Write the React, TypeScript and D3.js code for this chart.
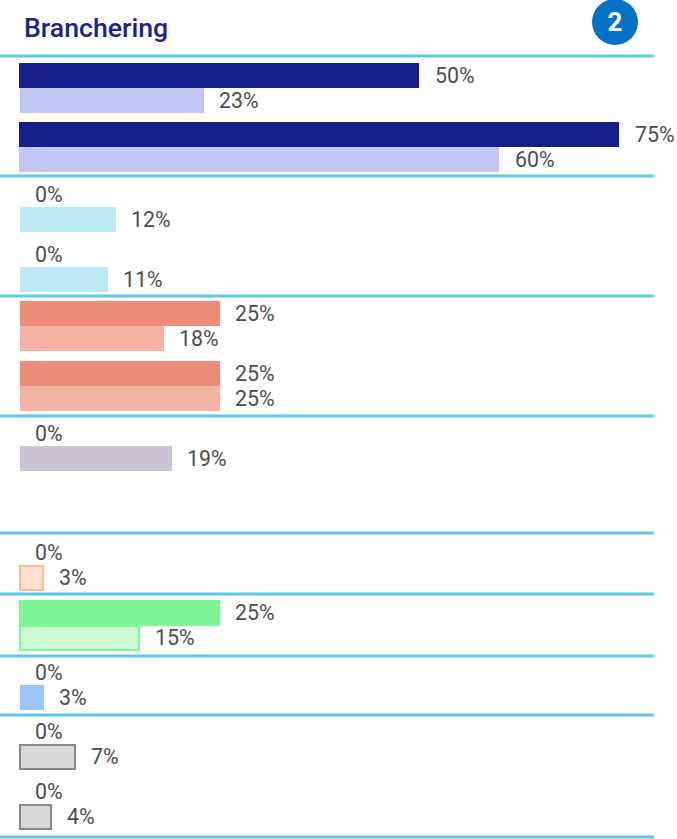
import React from "react";
import * as d3 from "d3";

const title = "Branchering";
const badge = "2";
const firstValues = [50, 75, 0, 0, 25, 25, 0, null, 0, 25, 0, 0, 0];
const secondValues = [23, 60, 12, 11, 18, 25, 19, null, 3, 15, 3, 7, 4];
const firstFills = ["#151e8a", "#151e8a", "#bde9f2", "#bde9f2", "#ef8c79", "#ef8c79", "#cbc5d1", "", "#ffe0d1", "#7ff695", "#99c6f6", "#d8d8d8", "#d8d8d8"];
const secondFills = ["#c3c6f5", "#c3c6f5", "#bde9f2", "#bde9f2", "#f5b3a6", "#f5b3a6", "#cbc5d1", "", "#ffe0d1", "#ccfbd6", "#99c6f6", "#d8d8d8", "#d8d8d8"];
const secondStrokes = ["", "", "", "", "", "", "", "", "#ffba92", "#80f598", "", "#888888", "#888888"];
const sectionBreaks = [0, 2, 4, 6, 8, 9, 10, 11, 13];

// layout of the row axis, measured in the picture
const lineRange = [56, 176, 296, 416, 533, 594, 656, 715, 837];
const rowDomain = [0, 1, 2, 3, 4, 5, 6, 8, 9, 10, 11, 12];
const rowRange = [63, 122, 182, 242, 301, 361, 421, 540, 600, 660, 719, 779];

const barH = 25;
const x = d3.scaleLinear().domain([0, 75]).range([20, 620]);
const yLine = d3.scaleLinear().domain(sectionBreaks).range(lineRange);
const yRow = d3.scaleLinear().domain(rowDomain).range(rowRange);
const fmt = (v: number) => `${v}%`;
const font = "Roboto, sans-serif";

export default function App() {
  return (
    <svg width={677} height={839} style={{ position: "absolute", left: 0, top: 0, background: "#fff" }}>
      <text x={24} y={37} fontFamily={font} fontWeight={500} fontSize={26.67} fill="#1a2391">{title}</text>
      <circle cx={615} cy={22} r={23} fill="#0472c4" />
      <text x={615} y={31} textAnchor="middle" fontFamily={font} fontWeight={700} fontSize={26} fill="#fff">{badge}</text>
      {firstValues.map((v, i) => {
        const w = secondValues[i];
        if (v === null || w === null) return null;
        const top = yRow(i);
        const stroke = secondStrokes[i];
        const inset = stroke ? 1 : 0;
        return (
          <g key={i}>
            {v > 0 && (
              <rect x={x(0) - (i < 2 || stroke ? 1 : 0)} y={top} width={x(v) - x(0) + (stroke ? 1 : 0)} height={barH + inset} fill={firstFills[i]} />
            )}
            <rect
              x={x(0) + (stroke ? 0 : i === 1 ? -1 : 0)}
              y={top + barH + inset}
              width={Math.max(x(w) - x(0) - inset, 0)}
              height={barH - inset}
              fill={secondFills[i]}
              stroke={stroke || "none"}
              strokeWidth={stroke ? 2 : 0}
            />
            <text x={x(v) + 15} y={top + barH - 5} fontFamily={font} fontSize={21.33} fill="#4d4d4d">{fmt(v)}</text>
            <text x={x(w) + 15} y={top + 2 * barH - 5} fontFamily={font} fontSize={21.33} fill="#4d4d4d">{fmt(w)}</text>
          </g>
        );
      })}
      {sectionBreaks.map((b) => (
        <line key={b} x1={0} x2={654} y1={yLine(b)} y2={yLine(b)} stroke="#5cc8e6" strokeWidth={3} />
      ))}
    </svg>
  );
}
